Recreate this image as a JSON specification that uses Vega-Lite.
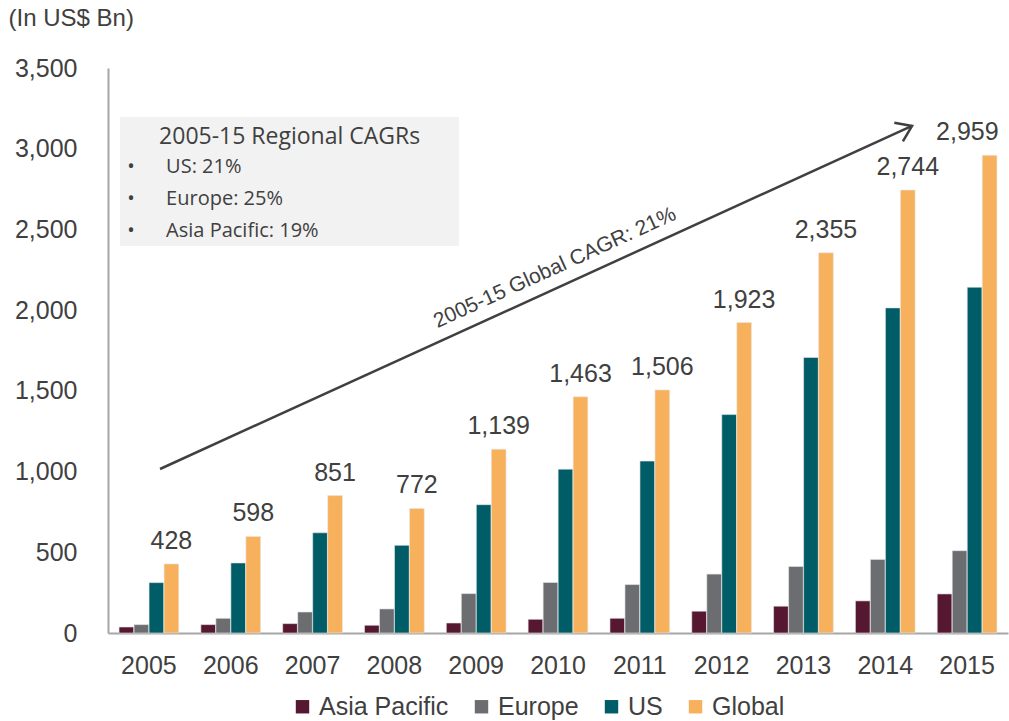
{
  "$schema": "https://vega.github.io/schema/vega-lite/v6.json",
  "width": 900,
  "height": 565,
  "autosize": {"type": "none"},
  "padding": {"left": 108, "top": 68, "right": 1, "bottom": 88},
  "background": "white",
  "config": {
    "view": {"stroke": null},
    "font": "Liberation Sans",
    "axis": {"labelFont": "Liberation Sans", "titleFont": "Liberation Sans"},
    "legend": {"labelFont": "Liberation Sans"}
  },
  "datasets": {
    "bars": [
      {"year": "2005", "region": "Asia Pacific", "value": 37},
      {"year": "2005", "region": "Europe", "value": 52},
      {"year": "2005", "region": "US", "value": 312},
      {"year": "2005", "region": "Global", "value": 428},
      {"year": "2006", "region": "Asia Pacific", "value": 52},
      {"year": "2006", "region": "Europe", "value": 91},
      {"year": "2006", "region": "US", "value": 434},
      {"year": "2006", "region": "Global", "value": 598},
      {"year": "2007", "region": "Asia Pacific", "value": 58},
      {"year": "2007", "region": "Europe", "value": 130},
      {"year": "2007", "region": "US", "value": 621},
      {"year": "2007", "region": "Global", "value": 851},
      {"year": "2008", "region": "Asia Pacific", "value": 48},
      {"year": "2008", "region": "Europe", "value": 149},
      {"year": "2008", "region": "US", "value": 543},
      {"year": "2008", "region": "Global", "value": 772},
      {"year": "2009", "region": "Asia Pacific", "value": 62},
      {"year": "2009", "region": "Europe", "value": 244},
      {"year": "2009", "region": "US", "value": 795},
      {"year": "2009", "region": "Global", "value": 1139},
      {"year": "2010", "region": "Asia Pacific", "value": 85},
      {"year": "2010", "region": "Europe", "value": 313},
      {"year": "2010", "region": "US", "value": 1015},
      {"year": "2010", "region": "Global", "value": 1463},
      {"year": "2011", "region": "Asia Pacific", "value": 91},
      {"year": "2011", "region": "Europe", "value": 300},
      {"year": "2011", "region": "US", "value": 1065},
      {"year": "2011", "region": "Global", "value": 1506},
      {"year": "2012", "region": "Asia Pacific", "value": 135},
      {"year": "2012", "region": "Europe", "value": 365},
      {"year": "2012", "region": "US", "value": 1353},
      {"year": "2012", "region": "Global", "value": 1923},
      {"year": "2013", "region": "Asia Pacific", "value": 166},
      {"year": "2013", "region": "Europe", "value": 412},
      {"year": "2013", "region": "US", "value": 1707},
      {"year": "2013", "region": "Global", "value": 2355},
      {"year": "2014", "region": "Asia Pacific", "value": 199},
      {"year": "2014", "region": "Europe", "value": 456},
      {"year": "2014", "region": "US", "value": 2014},
      {"year": "2014", "region": "Global", "value": 2744},
      {"year": "2015", "region": "Asia Pacific", "value": 242},
      {"year": "2015", "region": "Europe", "value": 510},
      {"year": "2015", "region": "US", "value": 2142},
      {"year": "2015", "region": "Global", "value": 2959}
    ],
    "box": [{"x1": 2004.647, "x2": 2008.79, "y1": 2397, "y2": 3196}],
    "boxTitle": [{"ax": 2006.72, "ay": 3072, "label": "2005-15 Regional CAGRs"}],
    "bullets": [
      {"ax": 2004.78, "ay": 2887, "label": "•"},
      {"ax": 2004.78, "ay": 2688, "label": "•"},
      {"ax": 2004.78, "ay": 2490, "label": "•"}
    ],
    "bulletText": [
      {"ax": 2005.21, "ay": 2887, "label": "US: 21%"},
      {"ax": 2005.21, "ay": 2688, "label": "Europe: 25%"},
      {"ax": 2005.21, "ay": 2490, "label": "Asia Pacific: 19%"}
    ],
    "arrow": [{"x1": 2005.136, "y1": 1016, "x2": 2014.327, "y2": 3141}],
    "arrowLabel": [{"ax": 2009.963, "ay": 2261, "label": "2005-15 Global CAGR: 21%"}]
  },
  "layer": [
    {
      "data": {"name": "bars"},
      "layer": [
        {
          "mark": {"type": "bar", "stroke": "#e8e8e8", "strokeWidth": 0.6},
          "encoding": {
            "x": {
              "field": "year", "type": "ordinal",
              "scale": {"paddingInner": 0.27, "paddingOuter": 0.135},
              "axis": {
                "title": null, "labelAngle": 0, "ticks": false,
                "domainColor": "#a6a6a6", "domainWidth": 2,
                "labelFontSize": 25, "labelColor": "#404040", "labelPadding": 20
              }
            },
            "xOffset": {
              "field": "region",
              "scale": {"domain": ["Asia Pacific", "Europe", "US", "Global"], "paddingInner": 0.02}
            },
            "y": {
              "field": "value", "type": "quantitative",
              "scale": {"domain": [0, 3500]},
              "axis": {
                "title": "(In US$ Bn)", "titleAngle": 0, "titleX": -100, "titleY": -50,
                "titleAlign": "left", "titleBaseline": "middle", "titleFontSize": 24,
                "titleFontWeight": "normal", "titleColor": "#404040",
                "values": [0, 500, 1000, 1500, 2000, 2500, 3000, 3500],
                "labelExpr": "replace(format(datum.value, ',.0f'), '', '')",
                "grid": false, "ticks": false,
                "domainColor": "#a6a6a6", "domainWidth": 2,
                "labelFontSize": 25, "labelColor": "#404040", "labelPadding": 31
              }
            },
            "color": {
              "field": "region", "type": "nominal",
              "scale": {
                "domain": ["Asia Pacific", "Europe", "US", "Global"],
                "range": ["#561730", "#6b6d70", "#005c66", "#f7b15c"]
              },
              "legend": {
                "title": null, "orient": "none", "legendX": 182, "legendY": 626,
                "direction": "horizontal",
                "symbolType": "square", "symbolSize": 180, "symbolStrokeWidth": 0,
                "labelFontSize": 25, "labelColor": "#404040", "labelFont": "Liberation Sans",
                "columnPadding": 20, "symbolOffset": 0, "labelOffset": 4
              }
            }
          }
        },
        {
          "transform": [{"filter": "datum.region == 'Global'"}],
          "mark": {
            "type": "text", "fontSize": 25, "color": "#404040", "baseline": "alphabetic", "dy": -15,
            "align": {"expr": "datum.year == '2015' ? 'right' : 'center'"},
            "dx": {"expr": "datum.year == '2015' ? 9 : 0"}
          },
          "encoding": {
            "x": {"field": "year", "type": "ordinal"},
            "xOffset": {"field": "region"},
            "y": {"field": "value", "type": "quantitative"},
            "text": {"field": "value", "type": "quantitative", "format": ","}
          }
        }
      ]
    },
    {
      "data": {"name": "box"},
      "mark": {"type": "rect", "color": "#f2f2f2"},
      "encoding": {
        "x": {"field": "x1", "type": "quantitative", "scale": {"domain": [2004.5, 2015.5]}, "axis": null},
        "x2": {"field": "x2"},
        "y": {"field": "y1", "type": "quantitative"},
        "y2": {"field": "y2"}
      }
    },
    {
      "data": {"name": "boxTitle"},
      "mark": {"type": "text", "font": "Open Sans", "fontSize": 23, "color": "#404040", "align": "center", "baseline": "middle"},
      "encoding": {
        "x": {"field": "ax", "type": "quantitative", "scale": {"domain": [2004.5, 2015.5]}, "axis": null},
        "y": {"field": "ay", "type": "quantitative"},
        "text": {"field": "label"}
      }
    },
    {
      "data": {"name": "bullets"},
      "mark": {"type": "text", "font": "Open Sans", "fontSize": 20, "color": "#404040", "align": "center", "baseline": "middle"},
      "encoding": {
        "x": {"field": "ax", "type": "quantitative", "scale": {"domain": [2004.5, 2015.5]}, "axis": null},
        "y": {"field": "ay", "type": "quantitative"},
        "text": {"field": "label"}
      }
    },
    {
      "data": {"name": "bulletText"},
      "mark": {"type": "text", "font": "Open Sans", "fontSize": 20, "color": "#404040", "align": "left", "baseline": "middle"},
      "encoding": {
        "x": {"field": "ax", "type": "quantitative", "scale": {"domain": [2004.5, 2015.5]}, "axis": null},
        "y": {"field": "ay", "type": "quantitative"},
        "text": {"field": "label"}
      }
    },
    {
      "data": {"name": "arrow"},
      "mark": {"type": "rule", "color": "#404040", "strokeWidth": 2.5},
      "encoding": {
        "x": {"field": "x1", "type": "quantitative", "scale": {"domain": [2004.5, 2015.5]}, "axis": null},
        "y": {"field": "y1", "type": "quantitative"},
        "x2": {"field": "x2"},
        "y2": {"field": "y2"}
      }
    },
    {
      "data": {"name": "arrow"},
      "mark": {
        "type": "point", "shape": "M -1 -0.7 L 0 0 L -1 0.7", "filled": false,
        "stroke": "#404040", "strokeWidth": 2.5, "size": 870, "angle": 335.5, "opacity": 1
      },
      "encoding": {
        "x": {"field": "x2", "type": "quantitative", "scale": {"domain": [2004.5, 2015.5]}, "axis": null},
        "y": {"field": "y2", "type": "quantitative"}
      }
    },
    {
      "data": {"name": "arrowLabel"},
      "mark": {"type": "text", "fontSize": 21, "color": "#404040", "align": "center", "baseline": "middle", "angle": 335.5},
      "encoding": {
        "x": {"field": "ax", "type": "quantitative", "scale": {"domain": [2004.5, 2015.5]}, "axis": null},
        "y": {"field": "ay", "type": "quantitative"},
        "text": {"field": "label"}
      }
    }
  ],
  "resolve": {"scale": {"x": "independent"}}
}
